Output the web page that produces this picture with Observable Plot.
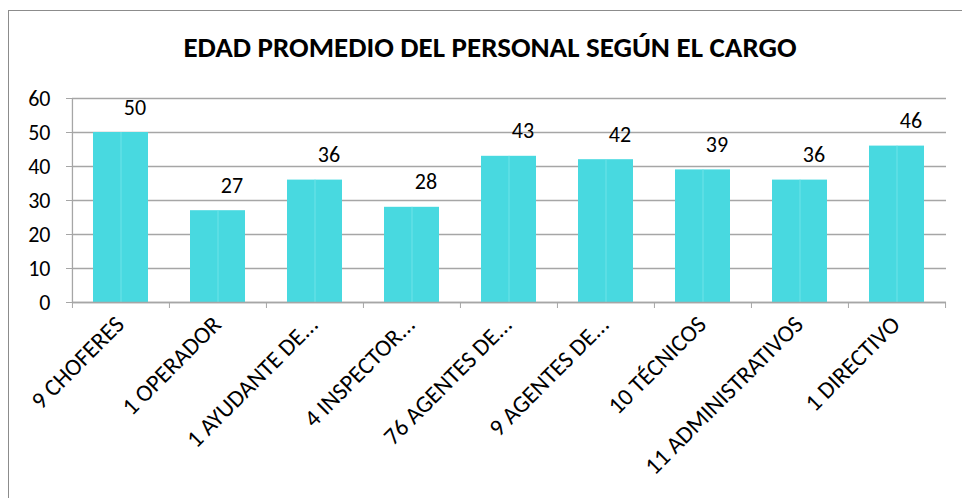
<!DOCTYPE html>
<html>
<head>
<meta charset="utf-8">
<script src="https://cdn.jsdelivr.net/npm/d3@7"></script>
<script src="https://cdn.jsdelivr.net/npm/@observablehq/plot@0.6"></script>
<style>
  html, body { margin: 0; padding: 0; background: #fff; }
  body { width: 962px; height: 498px; overflow: hidden; position: relative; font-family: Calibri, Carlito, "Open Sans", sans-serif; }
  #frame { position: absolute; left: 8px; top: 10px; width: 1000px; height: 520px; border: 1px solid #8c8c8c; box-sizing: border-box; pointer-events: none; z-index: 2; }
  #title { position: absolute; left: 9px; top: 30px; width: 962px; text-align: center; font-weight: bold; font-size: 29px; line-height: 34px; color: #000; }
  #chart { position: absolute; left: 0; top: 80px; }
</style>
</head>
<body>
<div id="title">EDAD PROMEDIO DEL PERSONAL SEGÚN EL CARGO</div>
<div id="chart"></div>
<div id="frame"></div>
<script>
const categories = ["9 CHOFERES", "1 OPERADOR", "1 AYUDANTE DE...", "4 INSPECTOR...", "76 AGENTES DE...", "9 AGENTES DE...", "10 TÉCNICOS", "11 ADMINISTRATIVOS", "1 DIRECTIVO"];
const values = [50, 27, 36, 28, 43, 42, 39, 36, 46];
const yTicks = [0, 10, 20, 30, 40, 50, 60];

const data = categories.map((c, i) => ({cat: c, val: values[i]}));

const W = 962, H = 418, mL = 72, mR = 16, mT = 18, mB = 196;
const step = (W - mL - mR) / categories.length;
const gap = 0.75 / 1.75;
const barColor = "#48D9E0";
const gridColor = "#a6a6a6";
const font = "Calibri, Carlito, 'Open Sans', sans-serif";

const chart = Plot.plot({
  width: W, height: H,
  marginLeft: mL, marginRight: mR, marginTop: mT, marginBottom: mB,
  style: {fontFamily: font, fontSize: "22px", color: "#000", background: "transparent"},
  x: {domain: categories, paddingInner: gap, paddingOuter: gap / 2, label: null},
  y: {domain: [0, 60], label: null},
  marks: [
    Plot.gridY(yTicks, {stroke: gridColor, strokeOpacity: 1, strokeWidth: 1.3}),
    Plot.barY(data, {x: "cat", y: "val", fill: barColor}),
    Plot.ruleX(data, {x: "cat", y1: 0, y2: "val", stroke: "#6fe3e8", strokeWidth: 1}),
    Plot.ruleY([0], {stroke: gridColor, strokeWidth: 1.3}),
    Plot.ruleX([categories[0]], {dx: -step / 2, y1: 0, y2: 60, stroke: gridColor, strokeWidth: 1.3}),
    Plot.axisY(yTicks, {tickSize: 6, tickPadding: 16, stroke: gridColor, fontSize: 22, tickFormat: d => d, label: null}),
    Plot.axisX({tickSize: 6, text: null, dx: -step / 2, stroke: gridColor, label: null}),
    Plot.axisX([categories[categories.length - 1]], {tickSize: 6, text: null, dx: step / 2, stroke: gridColor, label: null}),
    Plot.axisX({tickSize: 0, tickRotate: -45, tickPadding: 18, dx: -1, fontSize: 24, label: null}),
    Plot.text(data, {x: "cat", y: "val", text: d => String(d.val), dy: -25, dx: 14, fontSize: 22, fill: "#000"})
  ]
});
document.getElementById("chart").appendChild(chart);
</script>
</body>
</html>
